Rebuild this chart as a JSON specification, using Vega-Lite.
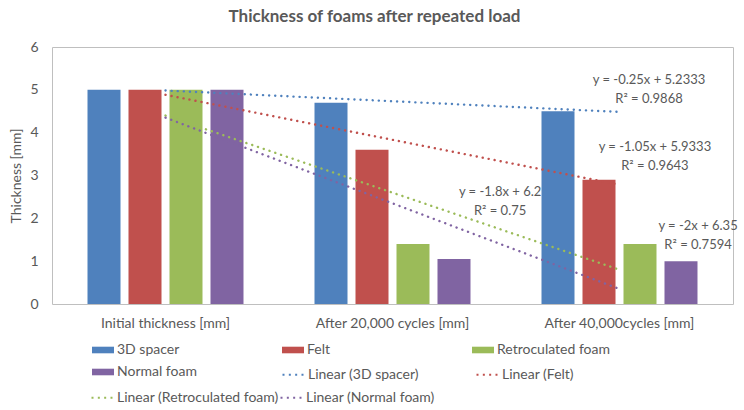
{
  "$schema": "https://vega.github.io/schema/vega-lite/v6.json",
  "width": 681,
  "height": 257,
  "autosize": "none",
  "padding": {"left": 52, "top": 47, "right": 11, "bottom": 106},
  "background": "white",
  "config": {
    "font": "Lato",
    "view": {"stroke": "#BFBFBF", "strokeWidth": 1},
    "axis": {"labelColor": "#595959", "titleColor": "#595959", "labelFont": "Lato", "titleFont": "Lato"},
    "legend": {"labelFont": "Lato", "labelFontSize": 14, "labelColor": "#595959", "labelLimit": 300, "padding": 0, "symbolSize": 484, "labelOffset": 3, "rowPadding": 4, "gridAlign": "all", "orient": "none", "direction": "horizontal", "title": null}
  },
  "title": {
    "text": "Thickness of foams after repeated load",
    "font": "Lato",
    "fontSize": 17,
    "fontWeight": "bold",
    "color": "#595959",
    "anchor": "middle",
    "dx": -18,
    "offset": 14
  },
  "datasets": {
    "bars": [
      {"stage": "Initial thickness [mm]", "series": "3D spacer", "thickness": 5},
      {"stage": "Initial thickness [mm]", "series": "Felt", "thickness": 5},
      {"stage": "Initial thickness [mm]", "series": "Retroculated foam", "thickness": 5},
      {"stage": "Initial thickness [mm]", "series": "Normal foam", "thickness": 5},
      {"stage": "After 20,000 cycles [mm]", "series": "3D spacer", "thickness": 4.7},
      {"stage": "After 20,000 cycles [mm]", "series": "Felt", "thickness": 3.6},
      {"stage": "After 20,000 cycles [mm]", "series": "Retroculated foam", "thickness": 1.4},
      {"stage": "After 20,000 cycles [mm]", "series": "Normal foam", "thickness": 1.05},
      {"stage": "After 40,000cycles [mm]", "series": "3D spacer", "thickness": 4.5},
      {"stage": "After 40,000cycles [mm]", "series": "Felt", "thickness": 2.9},
      {"stage": "After 40,000cycles [mm]", "series": "Retroculated foam", "thickness": 1.4},
      {"stage": "After 40,000cycles [mm]", "series": "Normal foam", "thickness": 1.0}
    ],
    "trendsA": [
      {"trend": "Linear (3D spacer)", "idx": 1, "fit": 4.9833},
      {"trend": "Linear (3D spacer)", "idx": 3, "fit": 4.4833},
      {"trend": "Linear (Felt)", "idx": 1, "fit": 4.8833},
      {"trend": "Linear (Felt)", "idx": 3, "fit": 2.7833}
    ],
    "trendsB": [
      {"trend": "Linear (Retroculated foam)", "idx": 1, "fit": 4.4},
      {"trend": "Linear (Retroculated foam)", "idx": 3, "fit": 0.8},
      {"trend": "Linear (Normal foam)", "idx": 1, "fit": 4.35},
      {"trend": "Linear (Normal foam)", "idx": 3, "fit": 0.35}
    ],
    "labels": [
      {"pos": 3.13, "val": 5.23, "label": "y = -0.25x + 5.2333\nR² = 0.9868"},
      {"pos": 3.156, "val": 3.666, "label": "y = -1.05x + 5.9333\nR² = 0.9643"},
      {"pos": 2.474, "val": 2.615, "label": "y = -1.8x + 6.2\nR² = 0.75"},
      {"pos": 3.346, "val": 1.821, "label": "y = -2x + 6.35\nR² = 0.7594"}
    ]
  },
  "layer": [
    {
      "data": {"name": "labels"},
      "mark": {"type": "text", "font": "Lato", "fontSize": 13, "color": "#595959", "align": "center", "baseline": "middle", "lineBreak": "\n", "lineHeight": 19},
      "encoding": {
        "x": {"field": "pos", "type": "quantitative", "scale": {"domain": [0.5, 3.5], "nice": false, "zero": false}, "axis": null},
        "y": {
          "field": "val", "type": "quantitative", "scale": {"domain": [0, 6], "nice": false},
          "axis": {"title": "Thickness [mm]", "titleFontSize": 14, "titleFontWeight": "normal", "titlePadding": 6, "labelFontSize": 14, "labelPadding": 14, "ticks": false, "domain": false, "grid": false, "values": [0, 1, 2, 3, 4, 5, 6]}
        },
        "text": {"field": "label"}
      }
    },
    {
      "data": {"name": "bars"},
      "mark": {"type": "bar"},
      "encoding": {
        "x": {
          "field": "stage", "type": "nominal", "sort": null,
          "scale": {"paddingInner": 0, "paddingOuter": 0},
          "axis": {"orient": "bottom", "title": null, "labelAngle": 0, "labelFontSize": 14, "labelPadding": 12, "ticks": false, "domain": false}
        },
        "xOffset": {
          "field": "series", "type": "nominal", "sort": null,
          "scale": {"domain": ["3D spacer", "Felt", "Retroculated foam", "Normal foam"], "paddingInner": 0.195, "paddingOuter": 0.866}
        },
        "y": {"field": "thickness", "type": "quantitative"},
        "color": {
          "field": "series", "type": "nominal",
          "scale": {"domain": ["3D spacer", "Felt", "Retroculated foam", "Normal foam"], "range": ["#4F81BD", "#C0504D", "#9BBB59", "#8064A2"]},
          "legend": {"legendX": 40, "legendY": 292, "columns": 3, "columnPadding": 52, "symbolType": "M-1,-0.3H1V0.3H-1Z", "symbolStrokeWidth": 0}
        }
      }
    },
    {
      "data": {"name": "trendsA"},
      "mark": {"type": "line", "strokeWidth": 2.4, "strokeDash": [0.1, 6], "strokeCap": "round"},
      "encoding": {
        "x": {"field": "idx", "type": "quantitative", "scale": {"domain": [0.5, 3.5], "nice": false, "zero": false}, "axis": null},
        "y": {"field": "fit", "type": "quantitative"},
        "color": {
          "field": "trend", "type": "nominal",
          "scale": {"domain": ["Linear (3D spacer)", "Linear (Felt)"], "range": ["#4F81BD", "#C0504D"]},
          "legend": {"legendX": 229, "legendY": 315, "columns": 2, "columnPadding": 53, "symbolType": "M-1,0H1", "symbolStrokeWidth": 2.2, "symbolDash": [2, 4.33], "symbolDashOffset": 0, "labelOffset": 2}
        },
        "detail": {"field": "trend"}
      }
    },
    {
      "data": {"name": "trendsB"},
      "mark": {"type": "line", "strokeWidth": 2.4, "strokeDash": [0.1, 6], "strokeCap": "round"},
      "encoding": {
        "x": {"field": "idx", "type": "quantitative", "scale": {"domain": [0.5, 3.5], "nice": false, "zero": false}, "axis": null},
        "y": {"field": "fit", "type": "quantitative"},
        "color": {
          "field": "trend", "type": "nominal",
          "scale": {"domain": ["Linear (Retroculated foam)", "Linear (Normal foam)"], "range": ["#9BBB59", "#8064A2"]},
          "legend": {"legendX": 38, "legendY": 338, "columns": 2, "columnPadding": -8, "symbolType": "M-1,0H1", "symbolStrokeWidth": 2.2, "symbolDash": [2, 4.33], "symbolDashOffset": 0, "labelOffset": 2}
        },
        "detail": {"field": "trend"}
      }
    }
  ],
  "resolve": {"scale": {"x": "independent", "color": "independent"}, "legend": {"color": "independent"}}
}
